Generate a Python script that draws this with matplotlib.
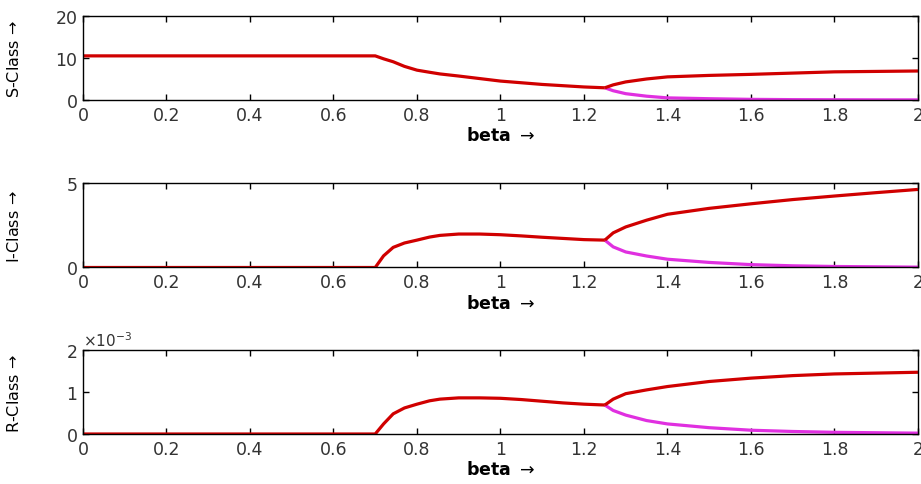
import matplotlib
matplotlib.use('Agg')
import matplotlib.pyplot as plt
from matplotlib.ticker import ScalarFormatter

plt.rcParams['font.family'] = ['DejaVu Sans']

# beta values before the fork and along the two branches
beta_pre = [0, 0.70, 0.72, 0.743, 0.77, 0.80, 0.83, 0.855, 0.90, 0.95, 1.00, 1.05, 1.10, 1.15, 1.20, 1.25]
beta_post = [1.25, 1.27, 1.30, 1.35, 1.40, 1.50, 1.60, 1.70, 1.80, 1.90, 2.00]

s_pre = [10.5, 10.5, 9.8, 9.1, 8.0, 7.1, 6.6, 6.2, 5.7, 5.1, 4.5, 4.1, 3.7, 3.4, 3.1, 2.9]
s_up = [2.9, 3.6, 4.3, 5.0, 5.5, 5.85, 6.1, 6.4, 6.7, 6.8, 6.9]
s_low = [2.9, 2.2, 1.5, 0.9, 0.5, 0.3, 0.15, 0.08, 0.05, 0.03, 0.02]

i_pre = [0, 0, 0.69, 1.19, 1.45, 1.62, 1.80, 1.90, 1.98, 1.98, 1.94, 1.87, 1.79, 1.72, 1.65, 1.62]
i_up = [1.62, 2.05, 2.4, 2.8, 3.15, 3.5, 3.77, 4.02, 4.23, 4.43, 4.62]
i_low = [1.62, 1.22, 0.92, 0.68, 0.49, 0.30, 0.17, 0.10, 0.06, 0.04, 0.02]

r_pre = [0, 0, 0.24e-3, 0.48e-3, 0.62e-3, 0.71e-3, 0.79e-3, 0.83e-3, 0.86e-3, 0.86e-3,
         0.85e-3, 0.82e-3, 0.78e-3, 0.74e-3, 0.71e-3, 0.69e-3]
r_up = [0.69e-3, 0.83e-3, 0.96e-3, 1.05e-3, 1.13e-3, 1.25e-3, 1.33e-3, 1.39e-3, 1.43e-3, 1.45e-3, 1.47e-3]
r_low = [0.69e-3, 0.56e-3, 0.45e-3, 0.32e-3, 0.24e-3, 0.15e-3, 0.09e-3, 0.06e-3, 0.04e-3, 0.03e-3, 0.02e-3]

panels = [
    ('S-Class$\\,\\rightarrow$', s_pre, s_up, s_low, 20, [0, 10, 20]),
    ('I-Class$\\,\\rightarrow$', i_pre, i_up, i_low, 5, [0, 5]),
    ('R-Class$\\,\\rightarrow$', r_pre, r_up, r_low, 2e-3, [0, 1e-3, 2e-3]),
]

RED = '#d00000'
MAGENTA = '#e030e0'

fig = plt.figure(figsize=(9.21, 4.85), dpi=100)
rects = [
    [0.0901, 0.7918, 0.9066, 0.1732],
    [0.0901, 0.4464, 0.9066, 0.1742],
    [0.0901, 0.1031, 0.9066, 0.1732],
]

for rect, (label, pre, up, low, ymax, yticks) in zip(rects, panels):
    ax = fig.add_axes(rect)
    ax.plot(beta_post, low, color=MAGENTA, lw=2.3, solid_capstyle='butt', zorder=2)
    ax.plot(beta_post, up, color=RED, lw=2.3, solid_capstyle='butt', zorder=3)
    ax.plot(beta_pre, pre, color=RED, lw=2.3, solid_capstyle='butt', zorder=3)
    ax.set_xlim(0, 2)
    ax.set_ylim(0, ymax)
    ax.set_xticks([0, 0.2, 0.4, 0.6, 0.8, 1, 1.2, 1.4, 1.6, 1.8, 2])
    ax.set_xticklabels(['0', '0.2', '0.4', '0.6', '0.8', '1', '1.2', '1.4', '1.6', '1.8', '2'])
    ax.set_yticks(yticks)
    ax.tick_params(direction='in', length=4, width=1, top=True, right=True,
                   labelsize=12.5, labelcolor='#333333', pad=4)
    for sp in ax.spines.values():
        sp.set_linewidth(1)
        sp.set_zorder(4)
    ax.set_xlabel('beta $\\rightarrow$', fontsize=12.5, fontweight='bold', labelpad=2)
    ax.set_ylabel(label, fontsize=11.5)
    # same left position for all three y labels
    ax.yaxis.set_label_coords(-0.073, 0.5)
    if ymax < 1:
        fmt = ScalarFormatter(useMathText=True)
        fmt.set_powerlimits((-2, 2))
        ax.yaxis.set_major_formatter(fmt)
        ax.yaxis.get_offset_text().set_fontsize(11)
        ax.yaxis.get_offset_text().set_color('#333333')

fig.savefig('out.png', dpi=100)
plt.close(fig)
